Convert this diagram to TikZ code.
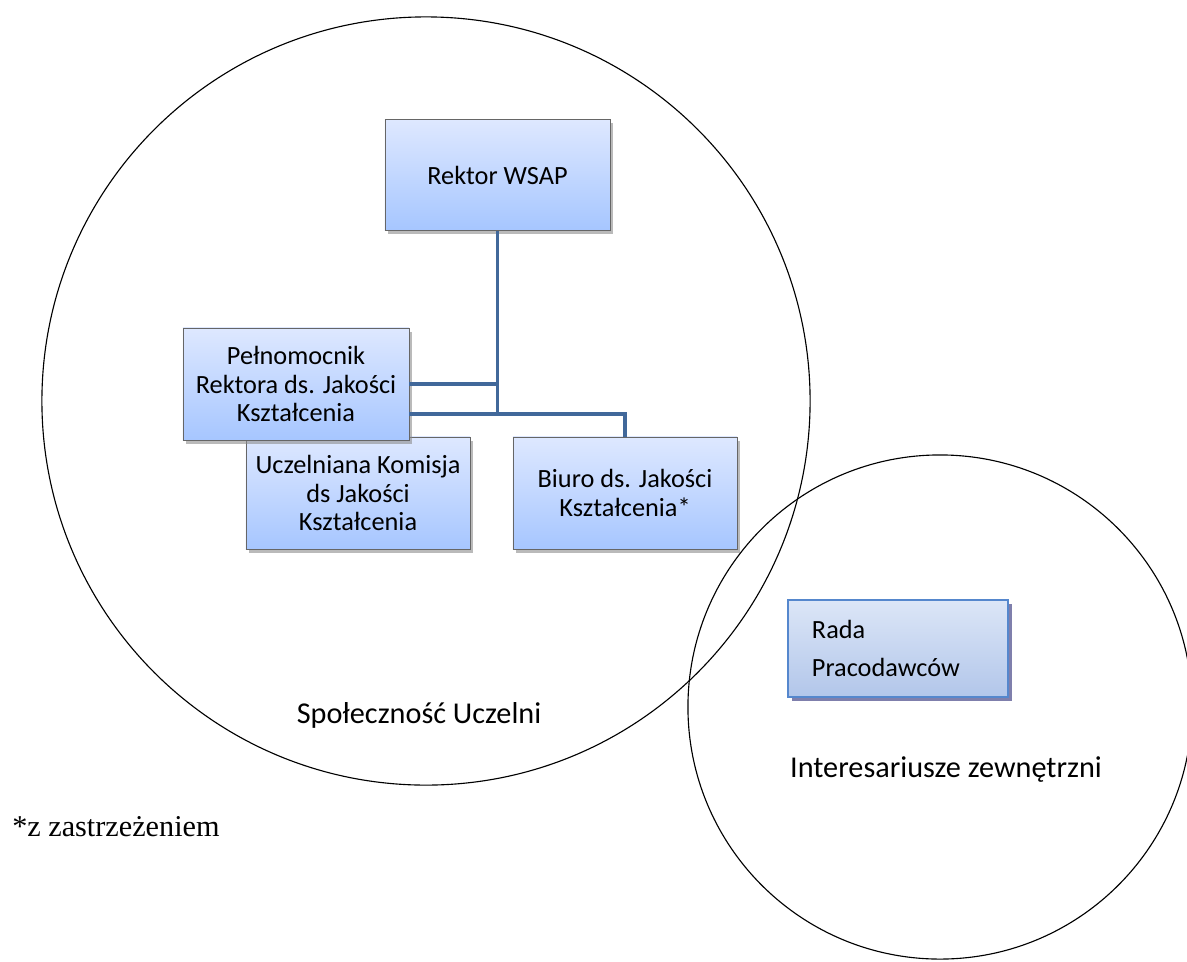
\documentclass[tikz,border=0pt]{standalone}
\usepackage{fontspec}
\setmainfont{Carlito}
\newfontfamily\notefont{Liberation Serif}
\usetikzlibrary{shadows}

\definecolor{linkblue}{RGB}{65,104,154}
\definecolor{boxtop}{RGB}{222,232,255}
\definecolor{boxbottom}{RGB}{166,198,255}
\definecolor{radatop}{RGB}{220,230,247}
\definecolor{radabottom}{RGB}{178,198,234}
\definecolor{radaline}{RGB}{85,135,205}

\tikzset{
  unitbox/.style={draw=black!60, line width=0.5pt, top color=boxtop, bottom color=boxbottom,
    align=center, font=\fontsize{18.7}{20}\selectfont, inner sep=2pt,
    drop shadow={shadow xshift=2pt, shadow yshift=-2.5pt, fill=black!45, opacity=0.6}},
  link/.style={draw=linkblue, line width=2.8pt},
  ring/.style={draw=black, line width=0.8pt},
  areatext/.style={font=\fontsize{21.5}{24}\selectfont}
}

\begin{document}
\begin{tikzpicture}[x=0.025cm, y=-0.025cm]
\useasboundingbox (0,0) rectangle (1187,961);

% obszary
\draw[ring] (426,401) circle[radius=9.6cm];
\draw[ring] (940,707) circle[radius=6.3cm];

% struktura
\node[unitbox, minimum width=5.625cm, minimum height=2.775cm] (rektor) at (497.5,175) {Rektor WSAP};
\coordinate (split) at (497.5,414);
\node[unitbox, minimum width=5.6cm, minimum height=2.8cm] (komisja) at (358,493) {Uczelniana Komisja\\ds Jakości\\Kształcenia};
\node[unitbox, minimum width=5.65cm, minimum height=2.8cm] (pelnomocnik) at (296,384) {Pełnomocnik\\Rektora ds. Jakości\\Kształcenia};
\node[unitbox, minimum width=5.6cm, minimum height=2.8cm] (biuro) at (625,493) {Biuro ds. Jakości\\Kształcenia*};

\draw[link] (rektor.south) -- (split);
\draw[link] (pelnomocnik.east) -- (pelnomocnik.east -| split);
\draw[link] (pelnomocnik.east |- split) -- (split) -| (biuro.north);

% rada
\node[draw=radaline, line width=1.5pt, top color=radatop, bottom color=radabottom,
  minimum width=5.5cm, minimum height=2.425cm, inner xsep=0.55cm, text width=4.3cm, align=left,
  font=\fontsize{18.7}{20}\selectfont,
  drop shadow={shadow xshift=2.5pt, shadow yshift=-3pt, fill=blue!35!black}]
  (rada) at (898,648.5) {Rada\\[7pt]Pracodawców};

% podpisy
\node[areatext] (spol) at (419,715) {Społeczność Uczelni};
\node[areatext] (inter) at (946,770) {Interesariusze zewnętrzni};
\node[font=\notefont\fontsize{21.5}{24}\selectfont, anchor=west, inner sep=0pt] (uwaga) at (12,827) {*z zastrzeżeniem};
\end{tikzpicture}
\end{document}
